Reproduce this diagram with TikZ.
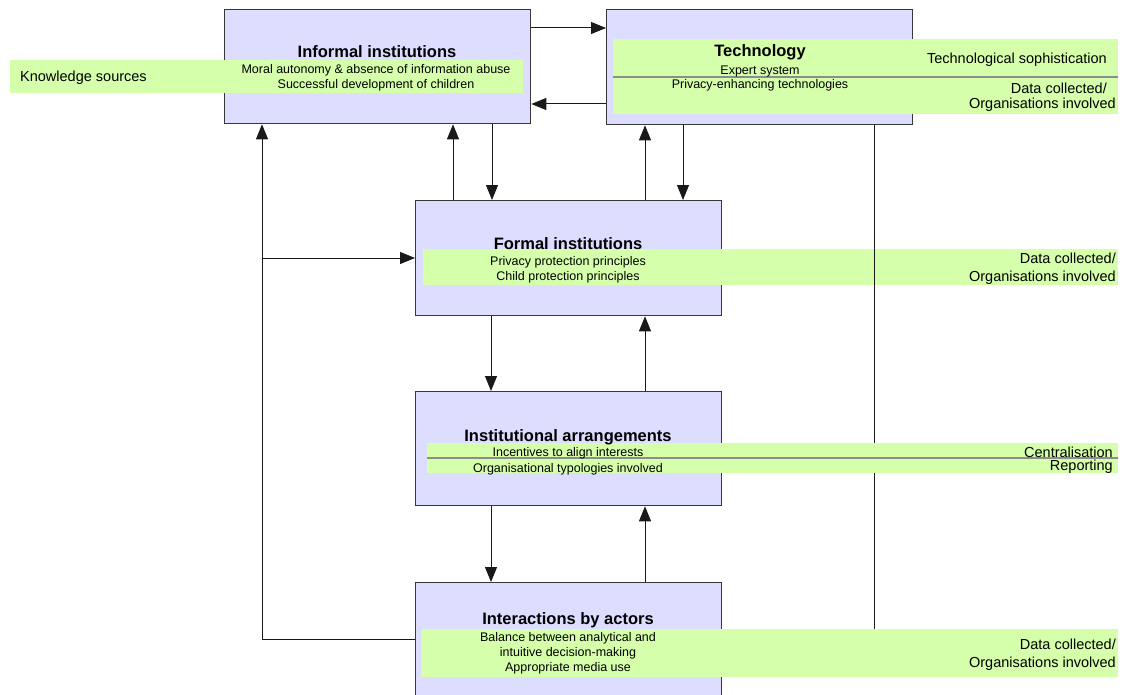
\documentclass[tikz,border=0pt]{standalone}
\usepackage{fontspec}
\setmainfont{Liberation Sans}
\usetikzlibrary{arrows.meta}
\definecolor{boxfill}{RGB}{221,221,255}
\definecolor{bandfill}{RGB}{213,255,170}
\definecolor{boxline}{RGB}{55,55,55}
\definecolor{sepline}{RGB}{140,140,140}

\begin{document}
\begin{tikzpicture}[x=1pt,y=-1pt,
  panel/.style={draw=boxline, line width=1.3pt, fill=boxfill, inner sep=0pt, anchor=north west},
  band/.style={fill=bandfill, draw=none, inner sep=0pt, anchor=north west},
  link/.style={draw=black!90, line width=1pt, -{Triangle[length=15pt,width=12pt]}},
  plain/.style={draw=black!90, line width=1pt},
  sep/.style={draw=sepline, line width=2pt},
  title/.style={font=\fontsize{16.5}{19}\selectfont\bfseries, inner sep=0pt, yshift=-2pt},
  item/.style={font=\fontsize{12.5}{15}\selectfont, align=center, inner sep=0pt, yshift=-2pt},
  side/.style={font=\fontsize{14.5}{17.5}\selectfont, align=right, inner sep=0pt, anchor=east, yshift=-2pt},
]
\useasboundingbox (0,0) rectangle (1123,695);

% the five panels
\node[panel, minimum width=306pt, minimum height=114pt] (inf) at (224,9) {};
\node[panel, minimum width=306pt, minimum height=115pt] (tech) at (606,9) {};
\node[panel, minimum width=306pt, minimum height=115pt] (form) at (415,200) {};
\node[panel, minimum width=306pt, minimum height=114pt] (inst) at (415,391) {};
\node[panel, minimum width=306pt, minimum height=130pt] (act) at (415,582) {};

% band of the formal panel lies beneath the long vertical line
\node[band, minimum width=695pt, minimum height=36pt] (formband) at (423,249) {};

% connectors between panels
\draw[link] (inf.east |- 0,28) -- (tech.west |- 0,28);
\draw[link] (tech.west |- 0,104) -- (inf.east |- 0,104);
\draw[link] (form.north -| 453,0) -- (inf.south -| 453,0);
\draw[link] (inf.south -| 492,0) -- (form.north -| 492,0);
\draw[link] (form.north -| 645,0) -- (tech.south -| 645,0);
\draw[link] (tech.south -| 683,0) -- (form.north -| 683,0);
\draw[link] (form.south -| 491,0) -- (inst.north -| 491,0);
\draw[link] (inst.north -| 645,0) -- (form.south -| 645,0);
\draw[link] (inst.south -| 491,0) -- (act.north -| 491,0);
\draw[link] (act.north -| 645,0) -- (inst.south -| 645,0);

% feedback loop on the left
\coordinate (fork) at (262,258);
\draw[link] (act.west |- 0,639) -| (inf.south -| 262,0);
\draw[link] (fork) -- (form.west |- fork);

% long line from the technology panel
\coordinate (drop) at (874,645);
\draw[plain] (tech.south -| 874,0) -- (drop);

% remaining bands
\node[band, minimum width=513pt, minimum height=33pt] (infband) at (10,60) {};
\node[band, minimum width=505pt, minimum height=75pt] (techband) at (613,39) {};
\node[band, minimum width=691pt, minimum height=30pt] (instband) at (427,443) {};
\node[band, minimum width=697pt, minimum height=48pt] (actband) at (421,629) {};
\draw[sep] (techband.west) -- (techband.east);
\draw[sep] (instband.west) -- (instband.east);

% informal institutions
\node[title] (inft) at (377,50) {Informal institutions};
\node[item] (infl) at (376,76) {Moral autonomy \& absence of information abuse\\Successful development of children};
\node[font=\fontsize{14.5}{17}\selectfont, inner sep=0pt, anchor=west, yshift=-2pt] (ks) at (20,76) {Knowledge sources};

% technology
\node[title] (techt) at (760,50) {Technology};
\node[item] (techa) at (760,69) {Expert system};
\node[item] (techb) at (760,83) {Privacy-enhancing technologies};
\node[side] (tsoph) at (1107,58) {Technological sophistication};
\node[side] (tdata) at (1107,86) {Data collected/};
\node[side] (torg) at (1116,103) {Organisations involved};

% formal institutions
\node[title] (formt) at (568,242) {Formal institutions};
\node[item] (forml) at (568,267.5) {Privacy protection principles\\Child protection principles};
\node[side] (fdata) at (1116,266.5) {Data collected/\\Organisations involved};

% institutional arrangements
\node[title] (instt) at (568,435) {Institutional arrangements};
\node[item] (insta) at (568,451) {Incentives to align interests};
\node[item] (instb) at (568,467) {Organisational typologies involved};
\node[side] (icent) at (1113,450) {Centralisation};
\node[side] (irep) at (1113,465) {Reporting};

% interactions by actors
\node[title] (actt) at (568,618) {Interactions by actors};
\node[item] (actl) at (568,651) {Balance between analytical and\\intuitive decision-making\\Appropriate media use};
\node[side] (adata) at (1116,652.5) {Data collected/\\Organisations involved};
\end{tikzpicture}
\end{document}
